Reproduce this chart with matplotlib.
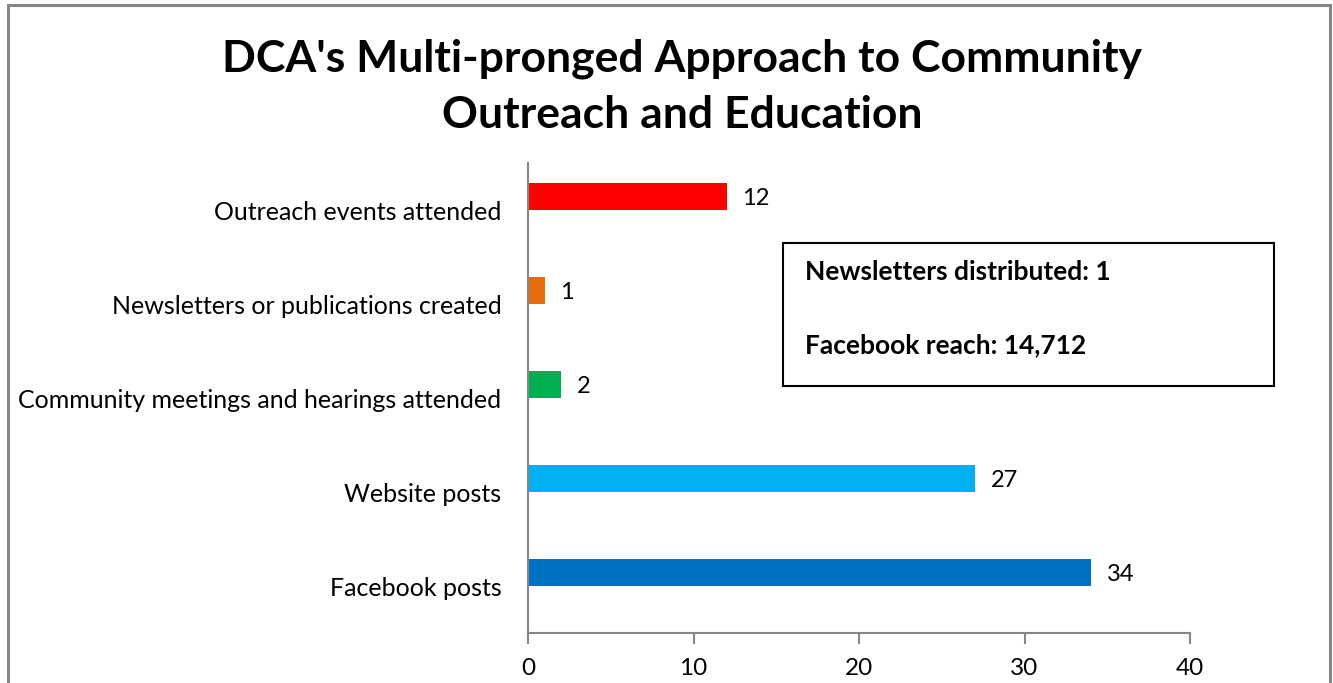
import matplotlib.pyplot as plt
from matplotlib.patches import Rectangle

plt.rcParams['font.family'] = ['Lato', 'DejaVu Sans']

# 分類與數值（由下到上）
categories = ["Facebook posts", "Website posts",
              "Community meetings and hearings attended",
              "Newsletters or publications created",
              "Outreach events attended"]
values = [34, 27, 2, 1, 12]
colors = ["#0070C0", "#00B0F0", "#00B050", "#E46C0A", "#FF0000"]
x_ticks = [0, 10, 20, 30, 40]
newsletters_distributed = 1
facebook_reach = 14712

fig = plt.figure(figsize=(13.33, 6.83), dpi=100)

# 外框
fig.patches.append(Rectangle((8 / 1333, -0.05), 1322 / 1333, 1.05 - 5 / 683,
                             transform=fig.transFigure, fill=False,
                             edgecolor="#868686", linewidth=2.2))

ax = fig.add_axes([528 / 1333, 1 - 633 / 683, 662 / 1333, 470 / 683])
y = list(range(len(categories)))
bar_off = 0.14  # 長條略高於類別中心
ax.barh([yi + bar_off for yi in y], values, height=0.29, color=colors)

for yi, v in zip(y, values):
    ax.text(v + 0.95, yi + bar_off - 0.02, str(v), va="center", ha="left", fontsize=17)

ax.set_xlim(0, 40)
ax.set_ylim(-0.5, len(categories) - 0.5)
ax.set_xticks(x_ticks)
ax.set_yticks(y)
ax.set_yticklabels(categories, fontsize=18)
ax.tick_params(axis="x", labelsize=17.5, length=8, width=1.5, color="#868686", pad=10)
ax.tick_params(axis="y", length=0, pad=19)
for s in ["top", "right"]:
    ax.spines[s].set_visible(False)
for s in ["left", "bottom"]:
    ax.spines[s].set_color("#868686")
    ax.spines[s].set_linewidth(1.5)

# 標題
fig.text(682 / 1333, 1 - 87 / 683,
         "DCA's Multi-pronged Approach to Community\nOutreach and Education",
         ha="center", va="center", fontsize=32, fontweight="bold", linespacing=1.5)

# 資訊方塊
box = Rectangle((783 / 1333, 1 - 386 / 683), 491 / 1333, 143 / 683,
                transform=fig.transFigure, fill=False, edgecolor="black", linewidth=1.5)
fig.patches.append(box)
fig.text(805 / 1333, 1 - 272 / 683, f"Newsletters distributed: {newsletters_distributed}",
         ha="left", va="center", fontsize=19, fontweight="bold")
fig.text(805 / 1333, 1 - 345 / 683, f"Facebook reach: {facebook_reach:,}",
         ha="left", va="center", fontsize=19, fontweight="bold")

fig.savefig("out.png", dpi=100)
